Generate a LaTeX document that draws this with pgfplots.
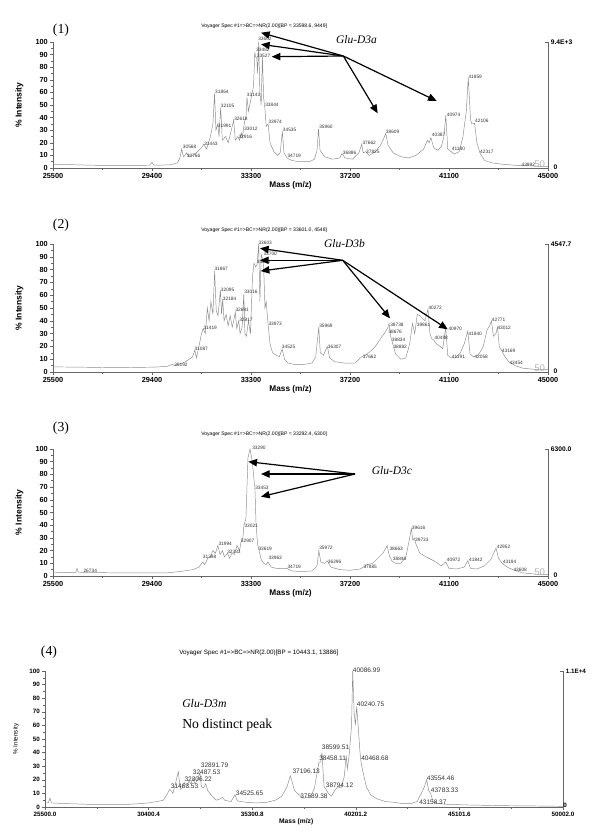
\documentclass[border=0pt]{standalone}
\usepackage{fontspec}
\setmainfont{Liberation Sans}
\newfontfamily\tnr{Liberation Serif}
\usepackage{pgfplots}
\pgfplotsset{compat=1.18}
\usetikzlibrary{arrows.meta}

\pgfplotsset{
  spec/.style={
    scale only axis, width=371.25pt, anchor=south west,
    xmin=25500, xmax=45000, ymin=0, ymax=100,
    axis x line*=bottom, axis y line*=left,
    axis line style={-, black!60, line width=0.4pt},
    xtick={25500,29400,33300,37200,41100,45000},
    ytick={0,10,...,100},
    minor x tick num=1, minor y tick num=1,
    tick align=outside, major tick length=2.2pt, minor tick length=1.2pt,
    tick style={black!60, line width=0.4pt},
    ticklabel style={font=\fontsize{5.5}{6}\selectfont\bfseries},
    xticklabel style={inner sep=1.5pt},
    yticklabel style={inner sep=1.5pt},
    /pgf/number format/assume math mode=true,
    /pgf/number format/1000 sep={},
    scaled ticks=false,
    xlabel={Mass (m/z)}, ylabel={\% Intensity},
    xlabel style={font=\fontsize{6.2}{7}\selectfont\bfseries,
      at={(axis description cs:0.48,-0.137)}, anchor=center},
    ylabel style={font=\fontsize{6.4}{7}\selectfont\bfseries,
      at={(axis description cs:-0.068,0.5)}, anchor=center},
    clip=false,
  },
  trace/.style={black!45, line width=0.35pt, no marks},
}
\tikzset{
  lbl/.style={font=\fontsize{3.6}{4}\selectfont, inner sep=0pt, anchor=west, black!80},
  lblb/.style={font=\fontsize{4.9}{5}\selectfont, inner sep=0pt, anchor=west, black!80},
  rlab/.style={font=\fontsize{5}{6}\selectfont\bfseries, inner sep=0pt, anchor=west},
  wm/.style={font=\fontsize{7.2}{7}\selectfont, black!30, inner sep=0pt, anchor=south west},
  arr/.style={line width=0.9pt, -{Triangle[length=6.5pt,width=5.5pt]}},
  raxis/.style={black!60, line width=0.4pt},
}
\newcommand{\pk}[3]{\node[lbl] at (axis cs:#1,#2) {#3};}
\newcommand{\pkb}[3]{\node[lblb] at (axis cs:#1,#2) {#3};}

\begin{document}
\begin{tikzpicture}
\useasboundingbox (0,0) rectangle (450pt,-625.5pt);

% ---------- panel 1 ----------
\begin{axis}[spec, at={(39.75pt,-126pt)}, height=94.5pt]
\addplot[trace] coordinates {
(25500,3)(26500,2.5)(27500,2)(28500,2)(29300,2.2)(29400,4.5)(29480,2.2)(30100,2.5)(30400,4)(30500,8)
(30568,15)(30640,9)(30700,10)(30766,12)(30850,9)(31000,10)(31200,13)(31350,16)(31443,19)(31550,15)
(31700,25)(31800,35)(31864,59)(31920,30)(31991,35)(32040,25)(32105,48)(32170,22)(32300,25)(32400,20)
(32500,28)(32618,38)(32680,22)(32780,25)(32850,22)(32916,28)(32960,24)(33012,32)(33060,38)(33100,40)
(33143,56)(33200,45)(33300,55)(33400,65)(33450,92)(33482,88)(33527,88)(33560,75)(33602,100)(33650,60)
(33700,50)(33750,88)(33800,55)(33844,48)(33900,33)(33974,35)(34050,20)(34200,13)(34350,10)(34450,12)
(34535,29)(34600,12)(34719,8)(34900,6)(35200,5)(35600,5)(35800,7)(35900,14)(35960,31)(36020,14)
(36200,9)(36500,7)(36800,8)(36886,11.5)(37000,8)(37300,7)(37550,12)(37662,19)(37720,12)(37825,13)
(37950,10)(38200,13)(38400,18)(38520,23)(38609,27.5)(38700,18)(38900,12)(39200,9)(39500,8)(39800,10)
(40100,15)(40250,22)(40320,20)(40387,24)(40500,16)(40650,14)(40800,17)(40900,25)(40974,42)(41050,15)
(41180,13)(41300,11)(41500,13)(41650,25)(41780,45)(41859,71.7)(41950,38)(42000,35)(42106,35.5)(42200,20)
(42317,12)(42500,6)(42800,4)(43200,3)(43800,2)(43992,2)(44500,1.5)(45000,1)
};
\pk{30609}{16.7}{30568}\pk{30766}{9.5}{30766}\pk{31448}{19.3}{31443}
\pk{31881}{60.8}{31864}\pk{32105}{49.5}{32105}\pk{31987}{33.3}{31991}
\pk{32630}{39}{32618}\pk{33024}{31}{33012}\pk{32800}{25}{32916}
\pk{33130}{57.7}{33143}\pk{33851}{50.5}{33844}\pk{33981}{36.5}{33974}
\pk{34547}{30}{34535}\pk{34729}{9.3}{34719}\pk{33575}{102.7}{33602}
\pk{33496}{94}{33482}\pk{33522}{89.4}{33527}\pk{35978}{32.5}{35960}
\pk{36911}{12}{36886}\pk{37684}{19.8}{37662}\pk{37829}{12.7}{37825}
\pk{38605}{28.8}{38609}\pk{40417}{26.5}{40387}\pk{41008}{42.3}{40974}
\pk{41205}{15.3}{41180}\pk{41860}{72}{41859}\pk{42123}{37.3}{42106}
\pk{42319}{13}{42317}\pk{43950}{2.6}{43992}
\draw[raxis] (axis cs:45000,0) -- (axis cs:45000,100);
\draw[raxis] (axis cs:45000,100) -- ([xshift=-2pt]axis cs:45000,100);
\node[rlab] at ([xshift=2pt]axis cs:45000,100) {9.4E+3};
\node[rlab] at ([xshift=4pt]axis cs:45000,0.5) {0};
\node[wm] at (axis cs:44450,0.3) {50};
\end{axis}

% ---------- panel 2 ----------
\begin{axis}[spec, at={(39.75pt,-279pt)}, height=96pt]
\addplot[trace] coordinates {
(25500,4)(26500,3.8)(27500,3.5)(28500,3.5)(29500,3.8)(30000,4.5)(30192,6)(30300,5)(30600,7)(30800,9)
(31000,12)(31087,17)(31150,11)(31250,20)(31350,30)(31419,34)(31500,30)(31580,50)(31650,40)(31720,55)
(31800,45)(31867,79)(31930,48)(32000,44)(32095,64)(32140,45)(32184,57)(32240,40)(32320,45)(32400,36)
(32480,44)(32560,35)(32620,40)(32681,47)(32740,34)(32817,40)(32870,30)(32950,35)(33016,61)(33060,30)
(33120,28)(33200,40)(33280,30)(33360,75)(33420,85)(33480,82)(33540,84)(33603,100)(33650,55)(33700,92)
(33760,88)(33800,82)(33850,50)(33900,55)(33973,37)(34050,22)(34150,15)(34300,13)(34420,12)(34525,18)
(34620,10)(34750,7)(35000,6)(35400,6)(35700,7)(35850,12)(35969,35)(36030,15)(36150,13)(36307,20)
(36400,11)(36600,8)(37000,7)(37400,7)(37662,12)(37800,13)(38000,16)(38200,20)(38434,27)(38550,30)
(38676,34)(38738,38)(38800,28)(38882,22)(39000,14)(39200,10)(39400,11)(39550,22)(39661,38)(39750,30)
(39850,45)(39950,44)(40050,42)(40150,40)(40272,49)(40350,30)(40420,26)(40498,25)(40600,22)(40750,20)
(40850,18)(40970,35)(41050,13)(41191,11)(41350,11)(41550,15)(41700,22)(41840,32)(41930,14)(42058,12)
(42250,13)(42450,20)(42600,33)(42700,36)(42771,40)(42850,28)(42950,30)(43012,35)(43080,20)(43169,17)
(43300,12)(43454,8)(43700,5)(44000,3)(44500,2)(45000,2)
};
\pk{30266}{5.7}{30192}\pk{31066}{18.2}{31087}\pk{31420}{34.4}{31419}
\pk{31854}{80.5}{31867}\pk{32105}{64}{32095}\pk{32184}{57.5}{32184}
\pk{33024}{62.8}{33016}\pk{32681}{48.7}{32681}\pk{32827}{40.9}{32817}
\pk{33981}{38}{33973}\pk{34508}{19.3}{34525}\pk{33587}{101}{33603}
\pk{33784}{92}{33700}\pk{33522}{85.7}{33640}\pk{35978}{35.7}{35969}
\pk{36320}{19.5}{36307}\pk{37699}{11.7}{37662}\pk{38775}{37}{38738}
\pk{38708}{31}{38676}\pk{38841}{25}{38834}\pk{38904}{19.3}{38882}
\pk{39823}{37}{39861}\pk{40283}{50}{40272}\pk{40519}{26.6}{40498}
\pk{41071}{33.6}{40970}\pk{41205}{12.2}{41191}\pk{41860}{30}{41840}
\pk{42096}{11.7}{42058}\pk{42780}{41}{42771}\pk{43001}{34.4}{43012}
\pk{43175}{16.7}{43169}\pk{43474}{7}{43454}
\draw[raxis] (axis cs:45000,0) -- (axis cs:45000,100);
\draw[raxis] (axis cs:45000,100) -- ([xshift=-2pt]axis cs:45000,100);
\node[rlab] at ([xshift=2pt]axis cs:45000,100) {4547.7};
\node[rlab] at ([xshift=4pt]axis cs:45000,0.5) {0};
\node[wm] at (axis cs:44450,0.3) {50};
\end{axis}

% ---------- panel 3 ----------
\begin{axis}[spec, at={(39.75pt,-432pt)}, height=95.25pt]
\addplot[trace] coordinates {
(25500,3)(26000,2.8)(26400,2.8)(26445,6)(26500,3)(27000,2.7)(28000,2.5)(29000,2.5)(30000,2.5)(30500,3.5)
(31000,5)(31250,7)(31398,11)(31480,9)(31600,14)(31700,15)(31800,20)(31900,18)(31994,24)(32080,17)
(32180,20)(32250,15)(32381,18)(32450,14)(32550,18)(32650,17)(32750,24)(32850,20)(32907,27)(32980,30)
(33021,40)(33100,45)(33180,93)(33260,100)(33300,96)(33350,90)(33400,80)(33430,73)(33453,70)(33500,40)
(33560,25)(33619,20)(33700,13)(33800,10)(33900,9)(33963,11)(34100,7)(34300,6)(34500,6)(34719,6)
(34900,4)(35300,3.5)(35700,4)(35900,8)(35972,20)(36050,11)(36200,10)(36296,12)(36450,7)(36800,5)
(37200,4.5)(37600,5.5)(37885,9)(38100,10)(38300,14)(38500,18)(38663,24)(38750,16)(38846,12)(39000,10)
(39200,10)(39400,15)(39550,30)(39616,37.5)(39680,28)(39733,30)(39800,25)(39950,18)(40200,15)(40500,12)
(40800,8)(40972,11)(41100,6)(41400,5.5)(41700,7)(41842,12)(41950,6)(42200,5.5)(42500,8)(42750,13)
(42952,22)(43050,14)(43194,10)(43400,7)(43608,5)(44000,2.5)(44500,1.5)(45000,1)
};
\pk{26694}{4.2}{26734}\pk{31396}{15.2}{31398}\pk{32011}{25.7}{31994}
\pk{32354}{18.7}{32333}\pk{32893}{27.5}{32907}\pk{33036}{39.6}{33021}
\pk{33339}{101}{33290}\pk{33457}{69.8}{33453}\pk{33587}{21}{33619}
\pk{33981}{14}{33963}\pk{34729}{7.3}{34719}\pk{35978}{22.3}{35972}
\pk{36320}{10.8}{36296}\pk{37724}{7.3}{37885}\pk{38747}{21}{38663}
\pk{38880}{13.9}{38846}\pk{39629}{38.3}{39616}\pk{39759}{28.3}{39733}
\pk{41008}{13}{40972}\pk{41886}{12.6}{41842}\pk{42976}{23}{42952}
\pk{43214}{10.8}{43194}\pk{43632}{4.7}{43608}
\draw[raxis] (axis cs:45000,0) -- (axis cs:45000,100);
\draw[raxis] (axis cs:45000,100) -- ([xshift=-2pt]axis cs:45000,100);
\node[rlab] at ([xshift=2pt]axis cs:45000,100) {6300.0};
\node[rlab] at ([xshift=4pt]axis cs:45000,0.5) {0};
\node[wm] at (axis cs:44450,0.3) {50};
\end{axis}

% ---------- panel 4 ----------
\begin{axis}[spec, at={(33.75pt,-605.25pt)}, width=388.5pt, height=102pt,
  xmin=25500, xmax=50002,
  xtick={25500,30400.4,35300.8,40201.2,45101.6,50002},
  xticklabels={25500.0,30400.4,35300.8,40201.2,45101.6,50002.0},
  ticklabel style={font=\fontsize{4.7}{5}\selectfont\bfseries},
  xlabel style={font=\fontsize{5}{6}\selectfont\bfseries,
    at={(axis description cs:0.485,-0.11)}, anchor=center},
  ylabel style={font=\fontsize{4.7}{6}\selectfont,
    at={(axis description cs:-0.056,0.5)}, anchor=center}]
\addplot[trace] coordinates {
(25500,3)(25650,3)(25736,6.5)(25800,3)(26500,2.5)(27500,2)(28500,2)(29500,2)(30000,2.5)(30400,3)
(30800,4)(31100,5)(31300,10)(31400,13)(31463,12)(31550,10)(31650,16)(31806,26)(31900,13)(32000,14)
(32090,18)(32200,15)(32306,19)(32400,17)(32487,21)(32600,17)(32700,20)(32830,25)(32900,15)(33000,14)
(33100,17)(33200,12)(33400,8)(33600,5)(33800,6)(33900,7)(34000,5)(34300,4)(34487,9)(34600,4.5)
(35000,3.5)(35500,3)(36000,3.5)(36400,5)(36700,8)(36950,15)(37100,23)(37200,18)(37300,12)(37450,10)
(37589,8)(37750,6.5)(37900,7)(38100,9)(38250,14)(38400,28)(38458,33)(38540,33)(38599,40)(38700,15)
(38794,13)(38900,10)(39050,8)(39200,12)(39350,15)(39500,14)(39650,22)(39750,38)(39800,28)(39900,40)
(40000,60)(40054,100)(40120,70)(40180,60)(40243,74)(40320,58)(40400,40)(40447,33)(40550,25)(40700,15)
(40900,9)(41200,6)(41600,4)(42000,3.5)(42400,2.5)(42800,2.5)(43100,4)(43300,10)(43450,15)(43554,20)
(43650,12)(43744,10)(43850,4)(44100,2.5)(44500,2)(45500,1.5)(47000,1)(48500,0.8)(50002,0.5)
};
\pkb{31446}{15.2}{31463.53}\pkb{32090}{20.3}{32306.22}\pkb{32486}{25.7}{32487.53}
\pkb{32865}{30.6}{32891.79}\pkb{34520}{9.8}{34525.65}\pkb{37197}{26.5}{37196.13}
\pkb{37562}{7.8}{37589.38}\pkb{38588}{43.6}{38599.51}\pkb{38460}{35.5}{38458.11}
\pkb{38777}{16}{38794.12}\pkb{40054}{100.5}{40086.99}\pkb{40243}{75.2}{40240.75}
\pkb{40447}{36}{40468.68}\pkb{43554}{21.3}{43554.46}\pkb{43744}{12.3}{43783.33}
\pkb{43190}{3.7}{43158.37}
\draw[raxis] (axis cs:50002,0) -- (axis cs:50002,100);
\draw[raxis] (axis cs:50002,100) -- ([xshift=-2pt]axis cs:50002,100);
\node[rlab, font=\fontsize{4.7}{5}\selectfont\bfseries] at ([xshift=2pt]axis cs:50002,100) {1.1E+4};
\node[rlab, font=\fontsize{4.7}{5}\selectfont\bfseries] at ([xshift=0pt]axis cs:50002,1) {0};
\end{axis}

% ---------- annotations (pixel grid) ----------
\begin{scope}[x=0.75pt,y=-0.75pt]
\node[font=\tnr\fontsize{10.3}{11}\selectfont] at (61,30) {(1)};
\node[font=\tnr\fontsize{10.3}{11}\selectfont] at (61,225) {(2)};
\node[font=\tnr\fontsize{10.3}{11}\selectfont] at (61,428) {(3)};
\node[font=\tnr\fontsize{10.3}{11}\selectfont] at (49,652) {(4)};
\node[anchor=west, inner sep=0, font=\fontsize{3.8}{4}\selectfont] at (201,26.5) {Voyager Spec \#1=>BC=>NR(2.00)[BP = 33598.6, 9449]};
\node[anchor=west, inner sep=0, font=\fontsize{3.8}{4}\selectfont] at (201,230) {Voyager Spec \#1=>BC=>NR(2.00)[BP = 33601.0, 4548]};
\node[anchor=west, inner sep=0, font=\fontsize{3.8}{4}\selectfont] at (201,433.7) {Voyager Spec \#1=>BC=>NR(2.00)[BP = 33292.4, 6300]};
\node[anchor=west, inner sep=0, font=\fontsize{4.7}{5}\selectfont] at (179,653) {Voyager Spec \#1=>BC=>NR(2.00)[BP = 10443.1, 13886]};
\node[font=\tnr\itshape\fontsize{8.6}{9}\selectfont] at (356.5,40) {Glu-D3a};
\node[font=\tnr\itshape\fontsize{8.6}{9}\selectfont] at (344.5,243.5) {Glu-D3b};
\node[font=\tnr\itshape\fontsize{8.6}{9}\selectfont] at (392,471) {Glu-D3c};
\node[anchor=west, inner sep=0, font=\tnr\itshape\fontsize{8.8}{9}\selectfont] at (182,703) {Glu-D3m};
\node[anchor=west, inner sep=0, font=\tnr\fontsize{10.3}{11}\selectfont] at (182,725) {No distinct peak};
% arrows panel 1
\draw[arr] (343.3,56) -- (261,32.7);
\draw[arr] (343.3,56) -- (261,44.3);
\draw[arr] (343.3,56) -- (271.7,56.7);
\draw[arr] (343.3,56) -- (377.7,113.3);
\draw[arr] (343.3,56) -- (436.7,101);
% arrows panel 2
\draw[arr] (342.7,260.3) -- (260,248.3);
\draw[arr] (342.7,260.3) -- (260,260.3);
\draw[arr] (342.7,260.3) -- (260.7,271);
\draw[arr] (342.7,260.3) -- (390,318.3);
\draw[arr] (342.7,260.3) -- (447.7,329.3);
% arrows panel 3
\draw[arr] (355,474) -- (248.3,461.7);
\draw[arr] (355,474) -- (261,474);
\draw[arr] (355,474) -- (261,496.7);
\end{scope}
\end{tikzpicture}
\end{document}
